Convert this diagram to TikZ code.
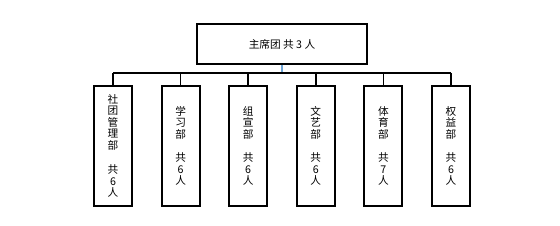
\documentclass[tikz,border=0pt]{standalone}
\usepackage{fontspec}
\setmainfont{Noto Sans CJK SC}
\usepackage{xcolor}
\usepackage{tikz}
\usetikzlibrary{positioning,calc}
\definecolor{ticklightblue}{RGB}{110,165,215}
\tikzset{
  headbox/.style={draw, line width=1.4pt, align=center, minimum width=127pt, minimum height=30pt, inner sep=2pt, font=\fontsize{8}{9}\selectfont},
  deptbox/.style={draw, line width=1.4pt, align=center, minimum width=28.5pt, minimum height=90pt, inner sep=0pt, font=\fontsize{8}{8.6}\selectfont},
  busline/.style={line width=0.9pt},
  drop/.style={line width=1.3pt},
  headtick/.style={line width=0.8pt, draw=ticklightblue}
}
\begin{document}
\begin{tikzpicture}[x=0.75pt,y=-0.75pt]
\useasboundingbox (0,0) rectangle (560,225);
\node[headbox] (head) at (282,44) {主席团 共 3 人};
\node[deptbox] (d1) at (113,146) {社\\团\\管\\理\\部\\[10pt]共\\6\\人};
\node[deptbox, right=20.8pt of d1] (d2) {学\\习\\部\\[9pt]共\\6\\人};
\node[deptbox, right=20.8pt of d2] (d3) {组\\宣\\部\\[9pt]共\\6\\人};
\node[deptbox, right=20.8pt of d3] (d4) {文\\艺\\部\\[9pt]共\\6\\人};
\node[deptbox, right=20.8pt of d4] (d5) {体\\育\\部\\[9pt]共\\7\\人};
\node[deptbox, right=20.8pt of d5] (d6) {权\\益\\部\\[9pt]共\\6\\人};
\coordinate (bus) at ([yshift=-6pt]head.south);
% bus and drops
\draw[headtick] (head.south) -- (bus);
\draw[busline] (d1 |- bus) -- (d6 |- bus);
\draw[drop] (d1 |- bus) -- (d1.north);
\draw[drop] (d2 |- bus) -- (d2.north);
\draw[drop] (d3 |- bus) -- (d3.north);
\draw[drop] (d4 |- bus) -- (d4.north);
\draw[drop] (d5 |- bus) -- (d5.north);
\draw[drop] (d6 |- bus) -- (d6.north);
\end{tikzpicture}
\end{document}
